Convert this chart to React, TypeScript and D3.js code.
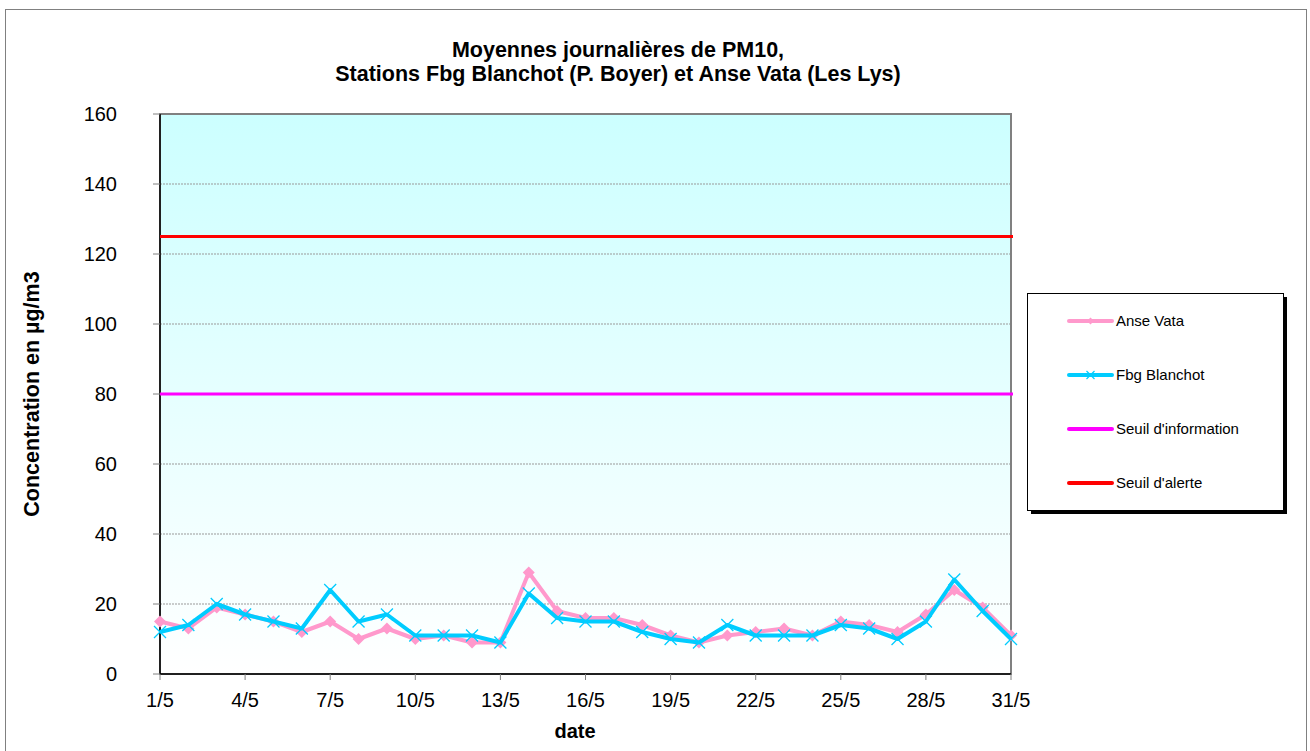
import React from "react";
import * as d3 from "d3";

const days: number[] = Array.from({ length: 31 }, (_, i) => i + 1);
const anseVata: number[] = [15, 13, 19, 17, 15, 12, 15, 10, 13, 10, 11, 9, 9, 29, 18, 16, 16, 14, 11, 9, 11, 12, 13, 11, 15, 14, 12, 17, 24, 19, 11];
const fbgBlanchot: number[] = [12, 14, 20, 17, 15, 13, 24, 15, 17, 11, 11, 11, 9, 23, 16, 15, 15, 12, 10, 9, 14, 11, 11, 11, 14, 13, 10, 15, 27, 18, 10];
const seuilInfo = 80;
const seuilAlerte = 125;
const yTicks: number[] = [0, 20, 40, 60, 80, 100, 120, 140, 160];
const xTickDays: number[] = [1, 4, 7, 10, 13, 16, 19, 22, 25, 28, 31];
const titleLines: string[] = ["Moyennes journalières de PM10,", "Stations Fbg Blanchot (P. Boyer) et Anse Vata (Les Lys)"];
const legendItems: string[] = ["Anse Vata", "Fbg Blanchot", "Seuil d'information", "Seuil d'alerte"];

export default function App() {
  const W = 1310, H = 751;
  const left = 160, right = 1011, top = 114, bottom = 674;
  const x = d3.scaleLinear().domain([1, 31]).range([left, right]);
  const y = d3.scaleLinear().domain([0, 160]).range([bottom, top]);
  const line = d3.line<number>().x((_, i) => x(days[i])).y((d) => y(d));
  const font = "Arial, 'Liberation Sans', sans-serif";
  const pink = "#ff99cc";
  const cyan = "#00ccff";
  const diamond = (cx: number, cy: number, r: number) =>
    `M${cx},${cy - r}L${cx + r},${cy}L${cx},${cy + r}L${cx - r},${cy}Z`;
  const cross = (cx: number, cy: number, r: number) =>
    `M${cx - r},${cy - r}L${cx + r},${cy + r}M${cx - r},${cy + r}L${cx + r},${cy - r}`;
  const legX = 1027, legY = 293, legW = 256, legH = 217;
  const legColors = [pink, cyan, "#ff00ff", "#ff0000"];
  const legRows = [321, 375, 429, 483];

  return (
    <svg width={W} height={H} style={{ position: "absolute", left: 0, top: 0 }} fontFamily={font}>
      <defs>
        <linearGradient id="bg" x1="0" y1="0" x2="0" y2="1">
          <stop offset="0" stopColor="#ccffff" />
          <stop offset="1" stopColor="#ffffff" />
        </linearGradient>
      </defs>
      <rect x={0} y={0} width={W} height={H} fill="#fff" />
      <rect x={5.5} y={9.5} width={1301} height={760} fill="#fff" stroke="#808080" strokeWidth={1} />
      {titleLines.map((t, i) => (
        <text key={i} x={618} y={57 + i * 24} textAnchor="middle" fontWeight="bold" fontSize={21.5}>{t}</text>
      ))}
      <rect x={left} y={top} width={right - left} height={bottom - top} fill="url(#bg)" />
      {yTicks.filter((v) => v > 0 && v < 160).map((v) => (
        <line key={v} x1={left} x2={right} y1={y(v)} y2={y(v)} stroke="#999" strokeWidth={1} strokeDasharray="2,1" />
      ))}
      <rect x={left} y={top} width={right - left} height={bottom - top} fill="none" stroke="#808080" strokeWidth={2} />
      <line x1={left} x2={left} y1={top} y2={bottom} stroke="#000" strokeWidth={1.5} />
      <line x1={left} x2={right} y1={bottom} y2={bottom} stroke="#000" strokeWidth={1.5} />
      {yTicks.map((v) => (
        <g key={v}>
          <line x1={left - 7} x2={left} y1={y(v)} y2={y(v)} stroke="#808080" />
          <text x={117} y={y(v) + 7} textAnchor="end" fontSize={20}>{v}</text>
        </g>
      ))}
      {xTickDays.map((d) => (
        <g key={d}>
          <line x1={x(d)} x2={x(d)} y1={bottom} y2={bottom + 6} stroke="#808080" />
          <text x={x(d)} y={bottom + 33} textAnchor="middle" fontSize={20}>{`${d}/5`}</text>
        </g>
      ))}
      <line x1={left} x2={right + 2} y1={y(seuilAlerte)} y2={y(seuilAlerte)} stroke="#ff0000" strokeWidth={3} />
      <line x1={left} x2={right + 2} y1={y(seuilInfo)} y2={y(seuilInfo)} stroke="#ff00ff" strokeWidth={3} />
      <path d={line(anseVata) || ""} fill="none" stroke={pink} strokeWidth={4} strokeLinejoin="round" />
      {anseVata.map((v, i) => (
        <path key={i} d={diamond(x(days[i]), y(v), 6)} fill={pink} />
      ))}
      <path d={line(fbgBlanchot) || ""} fill="none" stroke={cyan} strokeWidth={4} strokeLinejoin="round" />
      {fbgBlanchot.map((v, i) => (
        <path key={i} d={cross(x(days[i]), y(v), 6)} fill="none" stroke={cyan} strokeWidth={1.3} />
      ))}
      <text transform={`translate(39,${(top + bottom) / 2}) rotate(-90)`} textAnchor="middle" fontWeight="bold" fontSize={21.5}>Concentration en µg/m3</text>
      <text x={575} y={738} textAnchor="middle" fontWeight="bold" fontSize={20}>date</text>
      <rect x={legX + 4} y={legY + 4} width={legW} height={legH} fill="#000" />
      <rect x={legX + 0.5} y={legY + 0.5} width={legW} height={legH} fill="#fff" stroke="#000" strokeWidth={1} />
      {legendItems.map((t, i) => (
        <g key={t}>
          <line x1={1069} x2={1112} y1={legRows[i]} y2={legRows[i]} stroke={legColors[i]} strokeWidth={4} strokeLinecap="round" />
          {i === 0 && <path d={diamond(1090.5, legRows[i], 3.5)} fill={pink} />}
          {i === 1 && <path d={cross(1090.5, legRows[i], 4)} fill="none" stroke={cyan} strokeWidth={1.2} />}
          <text x={1116} y={legRows[i] + 5} fontSize={15}>{t}</text>
        </g>
      ))}
    </svg>
  );
}
